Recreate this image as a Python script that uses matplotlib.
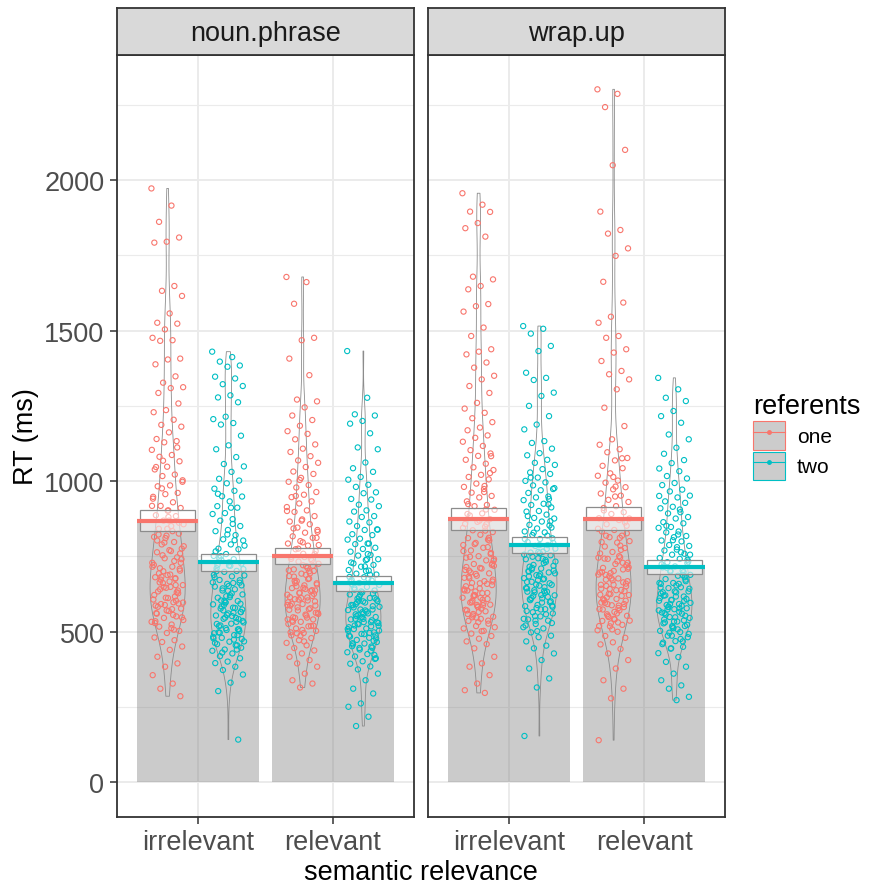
import matplotlib.pyplot as plt
import numpy as np
from matplotlib.patches import Patch, Rectangle
from matplotlib.lines import Line2D

plt.rcParams['font.family'] = ['Liberation Sans', 'DejaVu Sans']

panels = ['noun.phrase', 'wrap.up']
relevance = ['irrelevant', 'relevant']
referents = ['one', 'two']
colors = ['#F8766D', '#00BFC4']

mean_rt = [[869, 730, 752, 661], [874, 788, 875, 714]]
ci_rt = [[36, 28, 26, 24], [36, 27, 38, 23]]

# raw RTs (ms), estimated from the jittered points
rt_np_one_irr = [1972, 1915, 1861, 1809, 1795, 1792, 1648, 1632, 1615, 1557, 1526, 1523, 1504, 1476,
                 1468, 1466, 1407, 1404, 1388, 1348, 1327, 1312, 1309, 1293, 1258, 1236, 1229, 1204,
                 1187, 1181, 1162, 1140, 1133, 1129, 1104, 1087, 1081, 1066, 1048, 1039, 1022, 1017,
                 998, 986, 983, 961, 957, 942, 930, 918, 911, 903, 887, 884, 869, 857, 851, 842, 826,
                 819, 815, 798, 790, 776, 771, 764, 747, 744, 729, 716, 711, 703, 688, 681, 676, 662,
                 655, 649, 634, 628, 613, 607, 598, 592, 577, 569, 562, 551, 546, 533, 524, 517, 503,
                 496, 481, 472, 466, 451, 440, 417, 395, 384, 356, 328, 311, 286,
                 612, 587, 655, 701, 539, 768, 823, 594, 646, 722, 507, 683, 741, 869, 560, 631, 796,
                 918, 575, 664, 709, 842, 529, 617, 754, 1003, 690, 583, 637, 811, 948, 556, 673, 729,
                 881, 1047, 603, 648, 784, 512, 694, 862, 571, 622, 735, 976, 548, 667, 803, 1112, 589,
                 716, 834, 641, 760, 902, 535, 678, 1068, 597]
rt_np_two_irr = [1430, 1412, 1397, 1384, 1380, 1347, 1341, 1322, 1316, 1285, 1278, 1262, 1214, 1206,
                 1193, 1188, 1151, 1119, 1106, 1080, 1057, 1049, 1031, 1008, 1002, 993, 975, 968, 950,
                 949, 933, 917, 912, 894, 891, 874, 869, 851, 838, 834, 821, 807, 803, 790, 776, 774,
                 758, 752, 741, 738, 726, 720, 711, 702, 699, 687, 684, 672, 663, 659, 650, 641, 637,
                 624, 621, 613, 602, 598, 591, 580, 577, 566, 561, 554, 546, 543, 531, 527, 519, 508,
                 506, 495, 489, 480, 476, 467, 459, 455, 441, 437, 428, 419, 412, 401, 396, 384, 373,
                 358, 331, 303, 142,
                 512, 478, 563, 604, 447, 652, 701, 533, 589, 468, 627, 745, 502, 556, 681, 804, 431,
                 574, 615, 722, 489, 547, 664, 858, 521, 593, 636, 767, 455, 571, 708, 912, 498, 542,
                 618, 689, 474, 584, 654, 731, 526, 441, 603, 786, 552, 497, 671, 823, 463, 579, 644,
                 536, 719, 958, 508, 597, 483, 662, 751, 565]
rt_np_one_rel = [1678, 1661, 1589, 1476, 1468, 1407, 1352, 1271, 1265, 1245, 1218, 1203, 1184, 1166,
                 1157, 1139, 1122, 1108, 1097, 1083, 1069, 1061, 1047, 1032, 1024, 1011, 998, 987, 979,
                 964, 955, 947, 933, 926, 914, 903, 898, 884, 873, 866, 857, 846, 838, 829, 817, 812,
                 801, 793, 786, 774, 768, 759, 748, 742, 733, 726, 718, 707, 702, 693, 685, 677, 668,
                 661, 654, 645, 638, 630, 623, 614, 608, 601, 592, 587, 578, 571, 563, 557, 548, 541,
                 533, 526, 518, 511, 503, 496, 488, 479, 472, 463, 455, 446, 438, 428, 417, 406, 395,
                 384, 361, 339, 328, 315,
                 541, 604, 662, 587, 721, 498, 635, 776, 559, 689, 843, 520, 612, 704, 575, 651, 812,
                 468, 593, 737, 628, 901, 547, 669, 758, 506, 615, 694, 581, 832, 642, 533, 719, 487,
                 598, 675, 951, 563, 646, 742, 519, 607, 788, 554, 683, 626, 869, 573, 701, 495, 657,
                 748, 537, 619, 1004, 589, 712, 546, 637, 797]
rt_np_two_rel = [1432, 1277, 1222, 1218, 1200, 1191, 1159, 1112, 1106, 1062, 1043, 1031, 1014, 1005,
                 988, 981, 963, 960, 941, 939, 922, 917, 903, 899, 884, 881, 866, 863, 851, 840, 838,
                 824, 821, 809, 806, 793, 791, 779, 775, 766, 755, 753, 741, 738, 727, 722, 716, 705,
                 703, 693, 690, 681, 672, 670, 662, 656, 649, 640, 637, 631, 624, 612, 610, 602, 597,
                 588, 585, 574, 572, 561, 558, 549, 543, 541, 532, 525, 520, 511, 509, 498, 493, 487,
                 480, 473, 466, 461, 452, 447, 441, 432, 426, 418, 410, 402, 394, 385, 375, 361, 339,
                 311, 295, 262, 251, 218, 187,
                 478, 532, 589, 451, 615, 504, 567, 646, 423, 549, 682, 496, 598, 531, 717, 462, 574,
                 623, 509, 758, 543, 488, 601, 669, 437, 556, 529, 702, 581, 470, 634, 515, 793, 552,
                 607, 492, 658, 538, 446, 583, 741, 521, 612, 565, 484, 689, 526, 839, 571, 458, 627,
                 547, 503, 676, 592, 412, 561, 730, 518, 603]
rt_wu_one_irr = [1956, 1918, 1895, 1894, 1857, 1840, 1812, 1679, 1670, 1648, 1637, 1588, 1581, 1563,
                 1510, 1482, 1438, 1430, 1421, 1394, 1377, 1350, 1338, 1316, 1293, 1260, 1241, 1227,
                 1209, 1196, 1178, 1169, 1152, 1144, 1131, 1117, 1103, 1092, 1084, 1071, 1058, 1046,
                 1037, 1021, 1014, 1006, 992, 981, 974, 962, 951, 946, 933, 921, 917, 905, 893, 886,
                 874, 865, 858, 849, 837, 831, 822, 811, 806, 795, 788, 779, 770, 762, 751, 746, 737,
                 725, 719, 710, 703, 694, 686, 679, 668, 662, 655, 644, 637, 629, 621, 613, 606, 597,
                 590, 582, 573, 568, 559, 550, 543, 536, 527, 519, 511, 503, 494, 486, 477, 468, 459,
                 445, 417, 395, 384, 356, 328, 306, 297,
                 603, 667, 712, 559, 781, 634, 845, 588, 697, 758, 532, 651, 906, 618, 736, 577, 683,
                 812, 547, 641, 964, 598, 722, 869, 571, 659, 791, 515, 628, 749, 1027, 584, 705, 836,
                 554, 673, 613, 924, 537, 692, 768, 596, 647, 1083, 566, 715, 857, 622, 741, 502, 678,
                 803, 589, 637, 984, 548, 726, 661, 891, 609]
rt_wu_two_irr = [1515, 1506, 1490, 1449, 1432, 1360, 1343, 1336, 1294, 1283, 1250, 1216, 1188, 1172,
                 1133, 1127, 1108, 1093, 1086, 1071, 1061, 1054, 1040, 1029, 1024, 1012, 1001, 996,
                 986, 974, 970, 961, 949, 946, 937, 925, 921, 913, 901, 899, 889, 878, 876, 866, 855,
                 853, 843, 833, 830, 821, 810, 808, 798, 788, 785, 776, 766, 763, 754, 744, 741, 732,
                 722, 719, 710, 700, 697, 688, 678, 676, 666, 656, 653, 644, 633, 631, 621, 611, 608,
                 598, 589, 585, 575, 565, 561, 551, 541, 537, 526, 515, 511, 498, 487, 482, 468, 454,
                 445, 428, 406, 378, 345, 315, 154,
                 648, 712, 587, 761, 633, 819, 552, 694, 742, 605, 867, 671, 521, 738, 619, 795, 574,
                 702, 923, 657, 543, 728, 612, 846, 686, 569, 775, 638, 977, 597, 716, 661, 502, 808,
                 629, 749, 583, 691, 884, 616, 537, 733, 674, 1012, 601, 765, 645, 558, 829, 703, 622,
                 684, 941, 579, 756, 636, 707, 529, 788, 665]
rt_wu_one_rel = [2301, 2286, 2242, 2100, 2049, 1895, 1834, 1822, 1773, 1748, 1662, 1593, 1546, 1526,
                 1482, 1476, 1438, 1427, 1399, 1366, 1355, 1338, 1305, 1244, 1183, 1139, 1121, 1106,
                 1096, 1077, 1069, 1051, 1043, 1026, 1018, 1002, 995, 980, 973, 959, 952, 938, 931,
                 917, 911, 897, 891, 877, 871, 857, 852, 838, 833, 819, 814, 801, 796, 783, 778, 765,
                 760, 747, 742, 729, 725, 712, 707, 695, 690, 677, 673, 660, 656, 643, 639, 626, 622,
                 609, 605, 592, 588, 575, 571, 558, 553, 541, 536, 523, 518, 505, 500, 486, 480, 465,
                 458, 443, 428, 406, 378, 339, 311, 279, 140,
                 587, 652, 721, 543, 798, 619, 684, 876, 561, 743, 635, 508, 697, 812, 592, 668, 949,
                 574, 729, 625, 842, 531, 689, 603, 1014, 656, 772, 549, 714, 638, 903, 582, 677, 519,
                 751, 614, 827, 566, 698, 1076, 642, 537, 734, 596, 863, 671, 623, 786, 553, 709, 982,
                 608, 664, 528, 746, 579, 819, 651, 702, 597]
rt_wu_two_rel = [1343, 1305, 1277, 1266, 1233, 1216, 1194, 1155, 1139, 1111, 1091, 1070, 1060, 1042,
                 1033, 1017, 1009, 994, 987, 972, 966, 952, 946, 933, 928, 915, 910, 897, 893, 881,
                 876, 864, 860, 848, 845, 833, 830, 818, 814, 803, 800, 788, 785, 773, 770, 759, 756,
                 745, 742, 731, 728, 717, 714, 703, 700, 689, 686, 675, 673, 662, 659, 648, 645, 634,
                 631, 620, 617, 606, 603, 592, 589, 578, 575, 564, 560, 549, 546, 534, 531, 519, 515,
                 503, 499, 487, 482, 469, 464, 450, 444, 429, 416, 400, 384, 361, 339, 322, 311, 284,
                 273,
                 541, 603, 487, 662, 578, 712, 523, 634, 459, 689, 592, 756, 508, 621, 553, 804, 647,
                 476, 582, 733, 617, 528, 698, 445, 571, 659, 852, 609, 534, 724, 586, 497, 643, 781,
                 562, 681, 519, 612, 906, 574, 739, 548, 631, 468, 703, 596, 823, 557, 668, 512, 627,
                 764, 583, 493, 654, 717, 538, 605, 951, 566]

groups = [[rt_np_one_irr, rt_np_two_irr, rt_np_one_rel, rt_np_two_rel],
          [rt_wu_one_irr, rt_wu_two_irr, rt_wu_one_rel, rt_wu_two_rel]]

W, H = 877, 887
fig = plt.figure(figsize=(W / 100, H / 100), dpi=100)
panel_x = [117, 428]
panel_w = 297
top, bottom = 56, 818
strip_top = 9

grid_c = '#EBEBEB'
dark = '#333333'
fs = 19.5

for p, name in enumerate(panels):
    ax = fig.add_axes([panel_x[p] / W, 1 - bottom / H, panel_w / W, (bottom - top) / H])
    ax.set_xlim(0.4, 2.6)
    ax.set_ylim(-115, 2415)
    ax.set_facecolor('white')
    ax.set_axisbelow(True)
    for y in range(0, 2500, 500):
        ax.axhline(y, color=grid_c, lw=1.4, zorder=0)
    for y in range(250, 2500, 500):
        ax.axhline(y, color=grid_c, lw=0.8, zorder=0)
    for x in [1, 2]:
        ax.axvline(x, color=grid_c, lw=1.4, zorder=0)

    k = 0
    for r in range(2):
        for g in range(2):
            xc = (r + 1) + (g - 0.5) * 0.45
            vals = np.array(groups[p][k])
            m = mean_rt[p][k]
            ci = ci_rt[p][k]
            # bar to the mean
            ax.bar(xc, m, width=0.45, color='#7F7F7F', alpha=0.4, lw=0, zorder=1)
            # violin outline
            vp = ax.violinplot(vals, positions=[xc], widths=0.26, showextrema=False, bw_method=0.22)
            for b in vp['bodies']:
                b.set_facecolor('none')
                b.set_edgecolor('#8C8C8C')
                b.set_linewidth(0.6)
                b.set_alpha(1)
                b.set_zorder(2)
            # jitter (deterministic spread)
            jit = ((np.arange(len(vals)) * 0.6180339887) % 1 - 0.5) * 0.24
            ax.scatter(xc + jit, vals, s=14, facecolors='none', edgecolors=colors[g],
                       linewidths=0.8, zorder=3)
            # crossbar
            ax.add_patch(Rectangle((xc - 0.205, m - ci), 0.41, 2 * ci, facecolor='white',
                                   alpha=0.55, edgecolor='none', zorder=4))
            ax.add_patch(Rectangle((xc - 0.205, m - ci), 0.41, 2 * ci, facecolor='none',
                                   edgecolor='#8C8C8C', lw=0.9, zorder=4))
            ax.plot([xc - 0.225, xc + 0.225], [m, m], color=colors[g], lw=3, zorder=5,
                    solid_capstyle='butt')
            k += 1

    ax.set_xticks([1, 2])
    ax.set_xticklabels(relevance, fontsize=fs, color='#4D4D4D')
    ax.tick_params(axis='x', length=5, width=1.1, color=dark, pad=4)
    if p == 0:
        ax.set_yticks([0, 500, 1000, 1500, 2000])
        ax.set_yticklabels(['0', '500', '1000', '1500', '2000'], fontsize=fs, color='#4D4D4D')
        ax.tick_params(axis='y', length=5, width=1.1, color=dark, pad=4)
        ax.set_ylabel('RT (ms)', fontsize=fs, labelpad=4)
    else:
        ax.set_yticks([])
    for s in ax.spines.values():
        s.set_color(dark)
        s.set_linewidth(1.3)

    sax = fig.add_axes([panel_x[p] / W, 1 - top / H, panel_w / W, (top - strip_top) / H])
    sax.set_facecolor('#D9D9D9')
    sax.set_xticks([])
    sax.set_yticks([])
    for s in sax.spines.values():
        s.set_color(dark)
        s.set_linewidth(1.3)
    sax.text(0.5, 0.47, name, ha='center', va='center', fontsize=fs, color='#1A1A1A',
             transform=sax.transAxes)

fig.text((117 + 725) / 2 / W, 1 - 873 / H, 'semantic relevance', ha='center', va='center',
         fontsize=fs)

handles = [(Patch(facecolor='#CCCCCC', edgecolor=c, lw=0.8),
            Line2D([], [], color=c, lw=0.8, marker='o', markersize=2.5)) for c in colors]
leg = fig.legend(handles, referents, loc='upper left', bbox_to_anchor=(745 / W, 1 - 386 / H),
                 title='referents', title_fontsize=fs, fontsize=15, frameon=False,
                 handlelength=1.5, handleheight=1.7, labelspacing=0.1, handletextpad=0.6,
                 borderaxespad=0)
leg._legend_box.align = 'left'

fig.savefig('out.png', dpi=100)
